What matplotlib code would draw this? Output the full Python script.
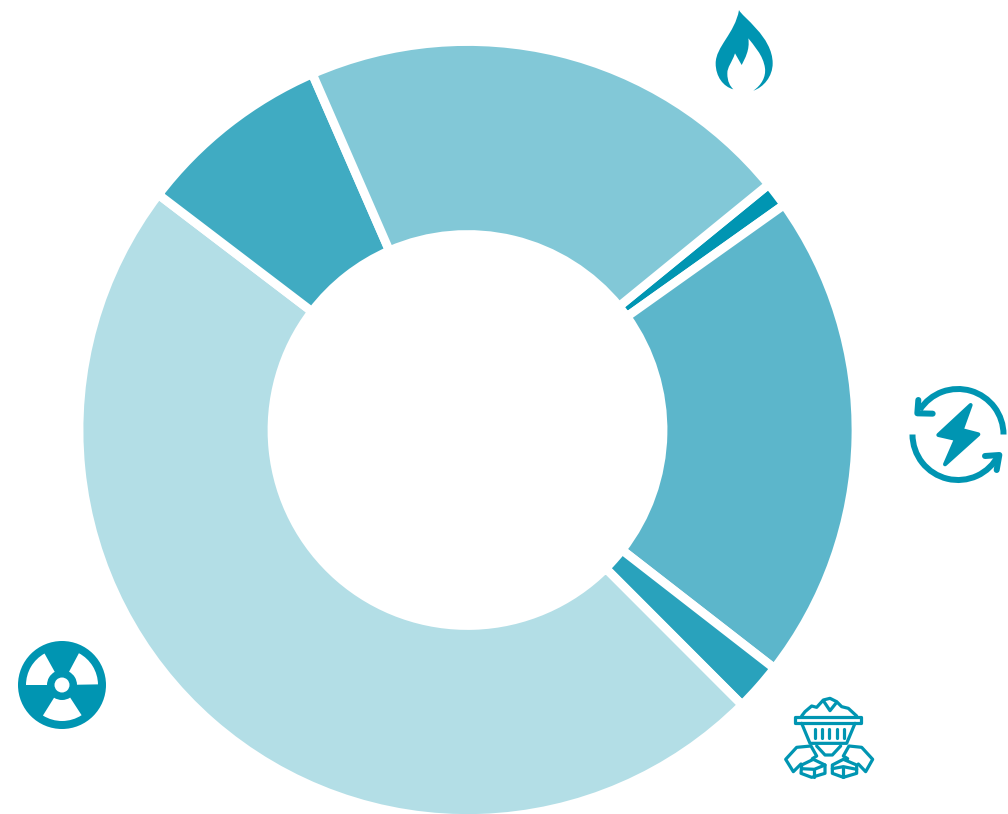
import matplotlib
matplotlib.use("Agg")
import matplotlib.pyplot as plt
from matplotlib.patches import Circle, PathPatch, Polygon, Wedge
from matplotlib.path import Path

# share of each slice, clockwise from the thin one at upper right
slice_names = ["Oil", "Renewables", "Coal", "Nuclear", "Hydro", "Gas"]
slice_values = [1.05, 20.35, 2.0, 47.85, 8.1, 20.65]
slice_colors = ["#0095B2", "#5CB6CB", "#29A2BC", "#B3DEE6", "#40ABC2", "#82C8D7"]

icon_color = "#0095B2"
px = 0.72  # one pixel in points at dpi 100

fig = plt.figure(figsize=(10.08, 8.14), dpi=100)
ax = fig.add_axes([0, 0, 1, 1])

ax.pie(slice_values, colors=slice_colors, startangle=39.2, counterclock=False,
       center=(467.5, 814 - 430), radius=388.5, frame=True,
       wedgeprops=dict(width=193, edgecolor="white", linewidth=8.8 * px))
ax.set_xlim(0, 1008)
ax.set_ylim(0, 814)
ax.set_aspect("equal")
ax.axis("off")


# icons are traced in zoomed crop coordinates: 3x, from a crop origin
def to_fig(points, ox, oy):
    return [(ox + x / 3, 814 - (oy + y / 3)) for x, y in points]


def stroke(points, ox, oy, lw=3.2, closed=False):
    ax.add_patch(Polygon(to_fig(points, ox, oy), closed=closed, fill=False,
                         edgecolor=icon_color, linewidth=lw * px, joinstyle="round",
                         capstyle="round"))


# flame
flame = [(117, 30),
         (125, 50), (218, 110), (218, 190),
         (218, 230), (190, 262), (160, 272),
         (185, 255), (198, 230), (195, 205),
         (190, 165), (160, 135), (145, 115),
         (150, 150), (135, 175), (125, 195),
         (105, 160),
         (95, 190), (82, 200), (82, 220),
         (82, 245), (90, 258), (100, 268),
         (70, 260), (47, 230), (47, 190),
         (47, 140), (105, 100), (117, 30),
         (117, 30)]
flame_codes = [Path.MOVETO] + [Path.CURVE4] * 15 + [Path.LINETO] + [Path.CURVE4] * 12 + [Path.CLOSEPOLY]
ax.add_patch(PathPatch(Path(to_fig(flame, 700, 0), flame_codes), facecolor=icon_color,
                       edgecolor="none"))

# renewable energy: two arrows round a bolt
centre = (958, 814 - 434.5)
ax.add_patch(Wedge(centre, 48.5, 0, 147, width=6, color=icon_color, linewidth=0))
ax.add_patch(Wedge(centre, 48.5, 180, 333, width=6, color=icon_color, linewidth=0))
stroke([(55, 75), (52, 115), (98, 116)], 900, 375, lw=6)
stroke([(255, 243), (298, 240), (290, 285)], 900, 375, lw=6)
bolt = [(212, 90), (115, 180), (168, 192), (135, 268), (235, 178), (185, 165)]
ax.add_patch(Polygon(to_fig(bolt, 900, 375), closed=True, facecolor=icon_color,
                     edgecolor=icon_color, linewidth=4 * px, joinstyle="round"))

# coal cart
cx, cy = 775, 690
stroke([(60, 82), (258, 82), (258, 98), (60, 98)], cx, cy, closed=True)
stroke([(80, 100), (105, 160), (215, 160), (240, 100)], cx, cy)
stroke([(125, 168), (150, 195), (172, 195), (197, 168)], cx, cy)
for bar_x in [120, 141, 163, 185, 206]:
    stroke([(bar_x, 118), (bar_x, 145)], cx, cy)
stroke([(80, 78), (90, 65), (110, 48), (125, 52), (145, 30), (165, 25), (185, 35),
        (200, 50), (220, 55), (245, 78)], cx, cy)
stroke([(145, 32), (165, 62), (185, 37)], cx, cy)
stroke([(78, 222), (55, 245), (32, 208), (65, 172), (108, 168), (125, 198), (112, 206)], cx, cy)
stroke([(80, 225), (115, 208), (150, 225), (150, 250), (110, 262), (78, 250)], cx, cy, closed=True)
stroke([(80, 236), (118, 238), (150, 225)], cx, cy)
stroke([(118, 238), (118, 260)], cx, cy)
stroke([(250, 222), (272, 245), (293, 208), (260, 172), (222, 168), (205, 198), (218, 206)], cx, cy)
stroke([(172, 225), (205, 208), (245, 225), (245, 250), (205, 262), (172, 250)], cx, cy, closed=True)
stroke([(172, 236), (205, 230), (245, 238)], cx, cy)
stroke([(205, 230), (205, 260)], cx, cy)

# radiation sign
rc = (62, 814 - 685)
ax.add_patch(Circle(rc, 44, facecolor=icon_color, edgecolor="none"))
for t1, t2 in [(119, 180), (1, 62), (238, 303)]:
    ax.add_patch(Wedge(rc, 36, t1, t2, width=21, facecolor="white", edgecolor="none"))
ax.add_patch(Circle(rc, 7.5, facecolor="white", edgecolor="none"))

fig.savefig("out.png", dpi=100)
